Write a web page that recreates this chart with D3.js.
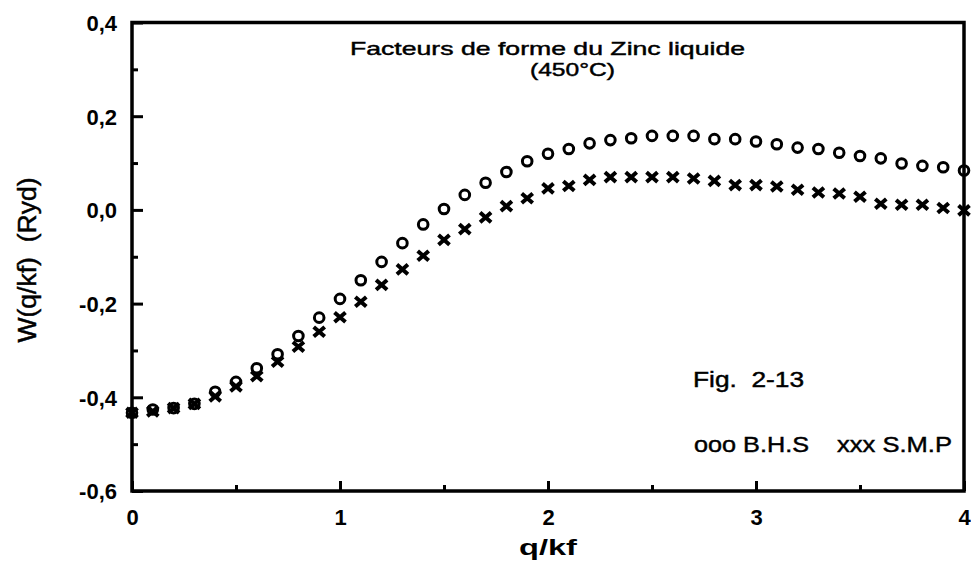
<!DOCTYPE html>
<html>
<head>
<meta charset="utf-8">
<script src="https://cdn.jsdelivr.net/npm/d3@7"></script>
<style>
  body { margin: 0; background: #fff; }
  text { font-family: "Liberation Sans", Arial, Helvetica, sans-serif; fill: #000; white-space: pre; }
</style>
</head>
<body>
<div id="chart"></div>
<script>
// q/kf sampling points
var qValues = [0, 0.1, 0.2, 0.3, 0.4, 0.5, 0.6, 0.7, 0.8, 0.9,
               1.0, 1.1, 1.2, 1.3, 1.4, 1.5, 1.6, 1.7, 1.8, 1.9,
               2.0, 2.1, 2.2, 2.3, 2.4, 2.5, 2.6, 2.7, 2.8, 2.9,
               3.0, 3.1, 3.2, 3.3, 3.4, 3.5, 3.6, 3.7, 3.8, 3.9, 4.0];

// B.H.S (circles)
var bhsValues = [-0.433, -0.426, -0.423, -0.414, -0.388, -0.367, -0.338, -0.308, -0.269, -0.230,
                 -0.190, -0.150, -0.111, -0.071, -0.031, 0.002, 0.032, 0.058, 0.081, 0.104,
                 0.120, 0.130, 0.142, 0.149, 0.153, 0.158, 0.158, 0.158, 0.151, 0.151,
                 0.146, 0.140, 0.133, 0.130, 0.122, 0.115, 0.110, 0.099, 0.094, 0.091, 0.084];

// S.M.P (crosses)
var smpValues = [-0.433, -0.430, -0.423, -0.414, -0.398, -0.377, -0.355, -0.324, -0.292, -0.260,
                 -0.229, -0.196, -0.160, -0.127, -0.098, -0.064, -0.041, -0.016, 0.008, 0.025,
                 0.046, 0.051, 0.064, 0.070, 0.070, 0.070, 0.070, 0.067, 0.062, 0.053,
                 0.053, 0.050, 0.043, 0.037, 0.035, 0.028, 0.013, 0.011, 0.011, 0.004, -0.001];

var xTicks = [0, 1, 2, 3, 4];
var xMinorTicks = [0.5, 1.5, 2.5, 3.5];
var yTicks = [-0.6, -0.4, -0.2, 0.0, 0.2, 0.4];
var yMinorTicks = [-0.5, -0.3, -0.1, 0.1, 0.3];

var titleLines = ["Facteurs de forme du Zinc liquide", "(450°C)"];
var xLabel = "q/kf";
var yLabel = "W(q/kf)  (Ryd)";
var figLabel = "Fig.  2-13";
var legendLabels = ["ooo B.H.S", "xxx S.M.P"];

var width = 971,
    height = 562,
    margin = {top: 22.5, right: 7, bottom: 71, left: 132};

var svg = d3.select("#chart").append("svg")
    .attr("width", width)
    .attr("height", height);

svg.append("rect").attr("width", width).attr("height", height).attr("fill", "#fff");

var x = d3.scaleLinear().domain([0, 4]).range([margin.left, width - margin.right]);
var y = d3.scaleLinear().domain([-0.6, 0.4]).range([height - margin.bottom, margin.top]);

var fr = d3.formatLocale({decimal: ",", thousands: ".", grouping: [3], currency: ["", ""], minus: "-"});
var yFmt = fr.format(".1f");

// frame
svg.append("rect")
    .attr("x", x(0)).attr("y", y(0.4))
    .attr("width", x(4) - x(0)).attr("height", y(-0.6) - y(0.4))
    .attr("fill", "none").attr("stroke", "#000").attr("stroke-width", 3.5);

// left axis, ticks pointing inward
var yAxis = svg.append("g")
    .attr("transform", "translate(" + x(0) + ",0)")
    .call(d3.axisLeft(y).tickValues(yTicks).tickSize(-11).tickPadding(15).tickFormat(yFmt));
svg.append("g")
    .attr("transform", "translate(" + x(0) + ",0)")
    .call(d3.axisLeft(y).tickValues(yMinorTicks).tickSize(-6).tickFormat(""));

// bottom axis, ticks pointing up
var xAxis = svg.append("g")
    .attr("transform", "translate(0," + y(-0.6) + ")")
    .call(d3.axisBottom(x).tickValues(xTicks).tickSize(-10).tickPadding(18).tickFormat(d3.format("d")));
svg.append("g")
    .attr("transform", "translate(0," + y(-0.6) + ")")
    .call(d3.axisBottom(x).tickValues(xMinorTicks).tickSize(-6).tickFormat(""));

svg.selectAll(".domain").remove();
svg.selectAll(".tick line").attr("stroke", "#000").attr("stroke-width", 3);
svg.selectAll(".tick text")
    .style("font-size", "22px")
    .style("font-weight", "bold");
yAxis.selectAll(".tick text").attr("dy", "0.36em");

// points
var pts = qValues.map(function(q, i) { return {q: q, bhs: bhsValues[i], smp: smpValues[i]}; });

svg.selectAll(".cross")
    .data(pts)
  .enter().append("path")
    .attr("class", "cross")
    .attr("transform", function(d) { return "translate(" + x(d.q) + "," + y(d.smp) + ")"; })
    .attr("d", "M-5.5,-4.8L5.5,4.8M-5.5,4.8L5.5,-4.8")
    .attr("stroke", "#000")
    .attr("stroke-width", 4)
    .attr("fill", "none");

svg.selectAll(".circle")
    .data(pts)
  .enter().append("circle")
    .attr("class", "circle")
    .attr("cx", function(d) { return x(d.q); })
    .attr("cy", function(d) { return y(d.bhs); })
    .attr("r", 4.8)
    .attr("stroke", "#000")
    .attr("stroke-width", 3)
    .attr("fill", "none");

// texts
function label(str, px, py, size, len, weight) {
    var t = svg.append("text")
        .attr("x", px).attr("y", py)
        .style("font-size", size + "px")
        .style("font-weight", weight || "normal")
        .style("stroke", "#000")
        .style("stroke-width", weight ? 0 : 0.45)
        .text(str);
    if (len) t.attr("textLength", len).attr("lengthAdjust", "spacingAndGlyphs");
    return t;
}

label(titleLines[0], 350, 55, 19, 395);
label(titleLines[1], 530, 76, 19, 85);
label(figLabel, 693, 387, 22.5, 111);
label(legendLabels[0], 694, 452, 22.5, 115);
label(legendLabels[1], 837, 452, 22.5, 115);
label(xLabel, 519, 555, 22, 58, "bold");

svg.append("text")
    .attr("transform", "translate(36,260) rotate(-90)")
    .attr("text-anchor", "middle")
    .style("font-size", "25px")
    .style("stroke", "#000")
    .style("stroke-width", 0.45)
    .attr("textLength", 165)
    .attr("lengthAdjust", "spacingAndGlyphs")
    .text(yLabel);
</script>
</body>
</html>
